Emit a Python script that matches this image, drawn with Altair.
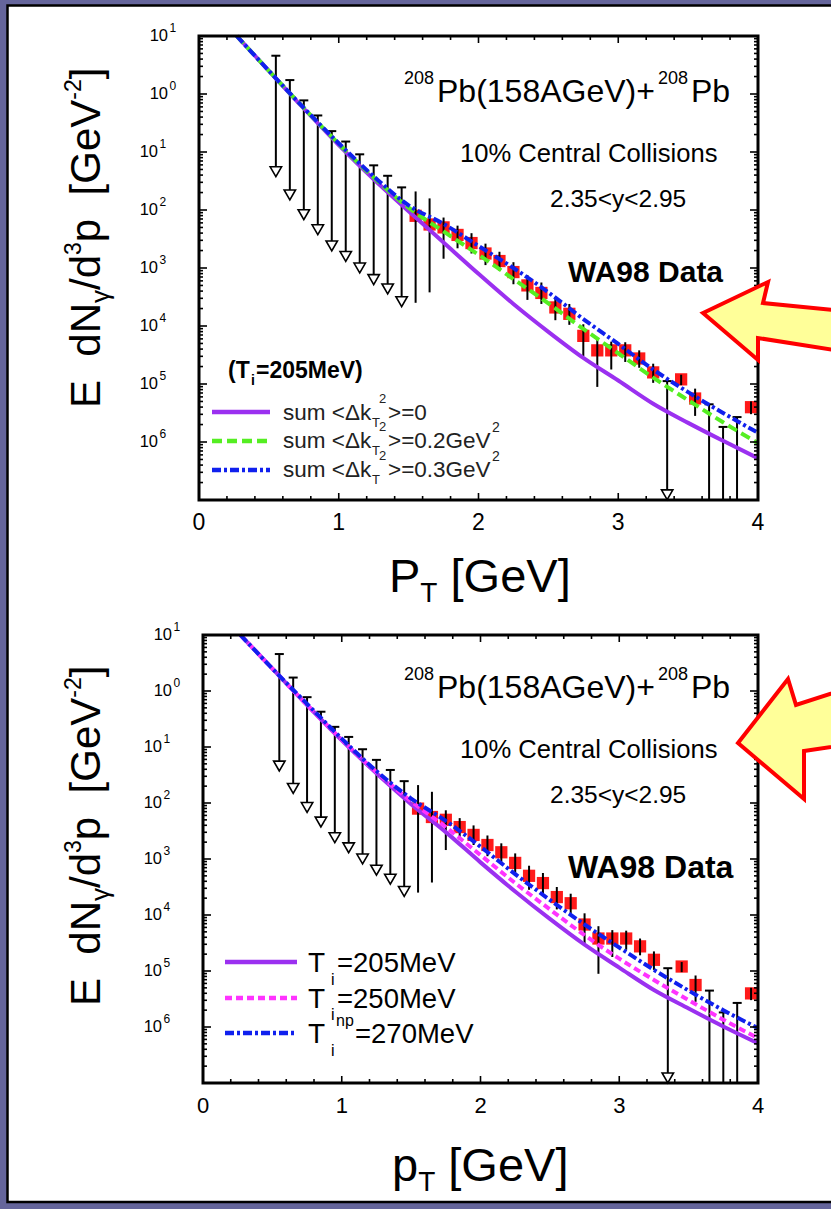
import altair as alt
import pandas as pd

FONT = "Liberation Sans"
PURPLE_BG = "#65659b"
RED = "#ff1a1a"
NB = "\u00a0"
ONE = pd.DataFrame({"k": [0]})

# ---------------- values (log10 of E dN/d3p) ----------------
curve_pt = [0.27, 0.5, 0.75, 1.0, 1.25, 1.5, 1.75, 2.0, 2.25, 2.5, 2.75, 3.0, 3.25, 3.5, 3.75, 4.0]
sum_dk0 = [1.0, 0.40, -0.25, -0.88, -1.47, -2.02, -2.56, -3.10, -3.62, -4.10, -4.55, -4.94, -5.34, -5.67, -5.98, -6.28]
sum_dk02 = [1.0, 0.40, -0.24, -0.86, -1.44, -1.96, -2.37, -2.77, -3.19, -3.61, -4.05, -4.47, -4.89, -5.28, -5.66, -6.02]
sum_dk03 = [1.0, 0.40, -0.24, -0.85, -1.42, -1.92, -2.24, -2.62, -3.00, -3.42, -3.88, -4.31, -4.75, -5.14, -5.50, -5.84]
ti_205 = [1.0, 0.40, -0.25, -0.88, -1.47, -2.02, -2.52, -3.06, -3.58, -4.07, -4.53, -4.94, -5.34, -5.67, -5.99, -6.29]
ti_250 = [1.0, 0.40, -0.25, -0.87, -1.45, -1.97, -2.43, -2.93, -3.43, -3.90, -4.36, -4.78, -5.16, -5.52, -5.87, -6.20]
ti_270np = [1.0, 0.40, -0.23, -0.85, -1.43, -1.92, -2.32, -2.78, -3.27, -3.73, -4.17, -4.58, -4.98, -5.35, -5.70, -6.02]

wa98_pt = [1.55, 1.65, 1.75, 1.85, 1.95, 2.05, 2.15, 2.25, 2.35, 2.45, 2.55, 2.65, 2.75,
           2.85, 2.95, 3.05, 3.15, 3.25, 3.45, 3.55, 3.95]
wa98_val = [-2.10, -2.25, -2.30, -2.43, -2.57, -2.75, -2.88, -3.07, -3.30, -3.43, -3.68, -3.79, -4.17,
            -4.42, -4.42, -4.42, -4.56, -4.80, -4.92, -5.25, -5.40]
wa98_lo = [-3.60, -3.42, -2.84, -2.66, -2.75, -2.95, -3.05, -3.28, -3.55, -3.62, -3.90, -3.98, -4.52,
           -5.05, -4.75, -4.62, -4.72, -4.98, -5.02, -5.55, -5.52]
wa98_hi = [-1.68, -1.80, -2.13, -2.27, -2.40, -2.58, -2.72, -2.90, -3.12, -3.25, -3.50, -3.62, -3.97,
           -4.20, -4.27, -4.28, -4.42, -4.65, -4.84, -5.08, -5.30]

ul_pt = [0.55, 0.65, 0.75, 0.85, 0.95, 1.05, 1.15, 1.25, 1.35, 1.45, 3.35, 3.65, 3.75, 3.85]
ul_top = [0.66, 0.24, -0.11, -0.37, -0.64, -0.82, -1.04, -1.23, -1.41, -1.61, -4.95, -5.35, -5.74, -5.57]
ul_end = [-1.34, -1.74, -2.08, -2.34, -2.62, -2.80, -3.00, -3.20, -3.36, -3.58, -6.91, -7.0, -7.0, -7.0]
ul_arrow = [1, 1, 1, 1, 1, 1, 1, 1, 1, 1, 1, 0, 0, 0]

x_major = [0, 1, 2, 3, 4]
x_minor = [0.2, 0.4, 0.6, 0.8, 1.2, 1.4, 1.6, 1.8, 2.2, 2.4, 2.6, 2.8, 3.2, 3.4, 3.6, 3.8]
x_labels = ["0", "1", "2", "3", "4"]
y_exp = [1, 0, -1, -2, -3, -4, -5, -6]
y_exp_text = ["1", "0", "1", "2", "3", "4", "5", "6"]   # as printed (minus signs lost)
y_major = [10.0 ** k for k in range(-7, 2)]
y_minor = [m * 10.0 ** k for k in range(-7, 1) for m in range(2, 10)]


def pw(vals):
    return [10.0 ** v for v in vals]


df_pts = pd.DataFrame({"pt": wa98_pt, "y": pw(wa98_val), "lo": pw(wa98_lo), "hi": pw(wa98_hi)})
df_ul = pd.DataFrame({"pt": ul_pt, "top": pw(ul_top), "end": pw(ul_end), "arrow": ul_arrow})
df_xmaj = pd.DataFrame({"v": x_major, "t": x_labels})
df_xmin = pd.DataFrame({"v": x_minor})
df_ymaj = pd.DataFrame({"v": y_major})
df_ymin = pd.DataFrame({"v": y_minor})
df_ylab = pd.DataFrame({"v": pw(y_exp), "k": y_exp, "e": y_exp_text})

# Arial / Liberation Sans advance widths (1/1000 em) for laying out sub/superscript runs
ADV = {" ": 278, NB: 278, "E": 667, "d": 556, "N": 722, "γ": 500, "/": 278, "p": 556, "[": 278, "]": 278,
       "G": 778, "e": 556, "V": 667, "-": 333, "T": 611, "P": 667}
for ch in "0123456789":
    ADV[ch] = 556


def width(s, size):
    return sum(ADV.get(c, 556) for c in s) * size / 1000.0


def txt(s, x, y, size, bold=False, angle=0, align="left", color="black"):
    s = s.replace(" ", NB)
    kw = dict(align=align, baseline="alphabetic", font=FONT, fontSize=size, color=color)
    if bold:
        kw["fontWeight"] = "bold"
    if angle:
        kw["angle"] = angle
    return alt.Chart(ONE).mark_text(**kw).encode(x=alt.value(x), y=alt.value(y), text=alt.value(s))


def runs_h(runs, x, y):
    out = []
    for s, size, shift in runs:
        lead = len(s) - len(s.lstrip(" "))
        x += width(" " * lead, size)
        s = s.lstrip(" ")
        out.append(txt(s, x, y + shift, size))
        x += width(s, size)
    return out


def runs_v(runs, x, y):
    # text rotated 270 deg: reads bottom-to-top, glyph tops point left
    out = []
    for s, size, shift in runs:
        lead = len(s) - len(s.lstrip(" "))
        y -= width(" " * lead, size)
        s = s.lstrip(" ")
        out.append(txt(s, x + shift, y, size, angle=270))
        y -= width(s, size)
    return out


def hline(x0, x1, y, color, dash=None):
    kw = dict(color=color, strokeWidth=4.5)
    if dash:
        kw["strokeDash"] = dash
    return alt.Chart(ONE).mark_rule(**kw).encode(x=alt.value(x0), x2=alt.value(x1), y=alt.value(y))


def panel(box, curves, xlab_y, xlab_size, extra):
    x0, x1, y0, y1 = box
    X = alt.Scale(domain=[0, 4], range=[x0, x1], nice=False, zero=False)
    Y = alt.Scale(type="log", domain=[1e-7, 10], range=[y1, y0], nice=False)

    def ex(f):
        return alt.X(f, type="quantitative", scale=X, axis=None)

    def ey(f):
        return alt.Y(f, type="quantitative", scale=Y, axis=None)

    L = []
    # data points
    L.append(alt.Chart(df_pts).mark_square(size=150, color=RED, opacity=1).encode(x=ex("pt"), y=ey("y")))
    L.append(alt.Chart(df_pts).mark_rule(color="black", strokeWidth=2).encode(
        x=ex("pt"), y=ey("lo"), y2=alt.Y2("hi")))
    # upper limits
    L.append(alt.Chart(df_ul).mark_rule(color="black", strokeWidth=2).encode(
        x=ex("pt"), y=ey("end"), y2=alt.Y2("top")))
    L.append(alt.Chart(df_ul).mark_tick(orient="horizontal", color="black", size=9, thickness=2, opacity=1).encode(
        x=ex("pt"), y=ey("top")))
    L.append(alt.Chart(df_ul).transform_filter("datum.arrow == 1").mark_point(
        shape="triangle-down", size=130, filled=True, fill="white", stroke="black", strokeWidth=1.6, opacity=1).encode(
        x=ex("pt"), y=ey("end")))
    # model curves
    for vals, color, dash in curves:
        d = pd.DataFrame({"pt": curve_pt, "y": pw(vals)})
        kw = dict(color=color, strokeWidth=4, interpolate="monotone")
        if dash:
            kw["strokeDash"] = dash
        L.append(alt.Chart(d).mark_line(**kw).encode(x=ex("pt"), y=ey("y")))
    # frame
    L.append(alt.Chart(ONE).mark_rect(fillOpacity=0, stroke="black", strokeWidth=3).encode(
        x=alt.value(x0), x2=alt.value(x1), y=alt.value(y0), y2=alt.value(y1)))
    # ticks (pointing inward, all four sides)
    for df, ln in ((df_xmaj, 7), (df_xmin, 4)):
        L.append(alt.Chart(df).mark_rule(color="black", strokeWidth=1.6).encode(
            x=ex("v"), y=alt.value(y1), y2=alt.value(y1 - ln)))
        L.append(alt.Chart(df).mark_rule(color="black", strokeWidth=1.6).encode(
            x=ex("v"), y=alt.value(y0), y2=alt.value(y0 + ln)))
    for df, ln in ((df_ymaj, 8), (df_ymin, 4)):
        L.append(alt.Chart(df).mark_rule(color="black", strokeWidth=1.6).encode(
            y=ey("v"), x=alt.value(x0), x2=alt.value(x0 + ln)))
        L.append(alt.Chart(df).mark_rule(color="black", strokeWidth=1.6).encode(
            y=ey("v"), x=alt.value(x1), x2=alt.value(x1 - ln)))
    # tick labels
    L.append(alt.Chart(df_xmaj).mark_text(align="center", baseline="alphabetic", font=FONT,
                                          fontSize=xlab_size, color="black").encode(
        x=ex("v"), y=alt.value(xlab_y), text="t:N"))
    for cond, xr in (("datum.k >= 0", x0 - 31), ("datum.k < 0", x0 - 41)):
        L.append(alt.Chart(df_ylab).transform_filter(cond).mark_text(
            align="right", baseline="alphabetic", dy=5, font=FONT, fontSize=16.5, color="black").encode(
            y=ey("v"), x=alt.value(xr), text=alt.value("10")))
        L.append(alt.Chart(df_ylab).transform_filter(cond).mark_text(
            align="left", baseline="alphabetic", dy=-4, font=FONT, fontSize=12, color="black").encode(
            y=ey("v"), x=alt.value(xr + 1.5), text="e:N"))
    L.extend(extra)
    return alt.layer(*L)


GREEN = "#55ee22"
BLUE = "#1020ee"
VIOLET = "#9b30f0"
MAGENTA = "#ff33ff"
DASH = [10, 5]
DASHDOT = [9, 3, 3, 3]
SHORTDASH = [7, 4]

F_Y = 42
F_X = 47


def ytitle(base):
    return runs_v([("E  dN", F_Y, 0), ("γ", 26, 9), ("/d", F_Y, 0), ("3", 23, -19),
                   ("p  [GeV", F_Y, 0), ("-2", 23, -19), ("]", F_Y, 0)], 100, base)


def header(dy, wa_size):
    return [
        txt("208", 404, 84 + dy, 18),
        txt("Pb(158AGeV)+", 437, 102 + dy, 32),
        txt("208", 658, 84 + dy, 18),
        txt("Pb", 691, 102 + dy, 32),
        txt("10% Central Collisions", 460, 162 + dy, 25.6),
        txt("2.35<y<2.95", 550, 207 + dy, 24.5),
        txt("WA98 Data", 568, 282 + dy, wa_size, bold=True),
    ]


extra1 = header(0, 30) + ytitle(408) + runs_h([("P", F_X, 0), ("T", 28, 10), (" [GeV]", F_X, 0)], 389, 592) + [
    txt("(T", 228, 378, 23, bold=True), txt("i", 251, 385, 14, bold=True), txt("=205MeV)", 256, 378, 23, bold=True),
    hline(212, 270, 412, VIOLET), hline(212, 270, 441, GREEN, DASH), hline(212, 270, 470, BLUE, DASHDOT),
]
for base, tail in ((420, "=0"), (448, "=0.2GeV"), (477, "=0.3GeV")):
    extra1 += [txt("sum <Δk", 283, base, 22.5, color="#222222"),
               txt("T", 372, base + 7, 13, color="#222222"),
               txt("2", 379, base - 17, 13, color="#222222"),
               txt(">" + tail, 388, base, 22.5, color="#222222")]
    if tail != "=0":
        extra1.append(txt("2", 492, base - 16, 14, color="#222222"))

extra2 = header(596, 32) + ytitle(1006) + runs_h([("p", F_X, 0), ("T", 28, 10), (" [GeV]", F_X, 0)], 392, 1181) + [
    hline(225, 297, 962, VIOLET), hline(225, 297, 998, MAGENTA, SHORTDASH), hline(225, 297, 1033, BLUE, DASHDOT),
    txt("T", 308, 972, 28), txt("i", 331, 985, 16), txt("=205MeV", 337, 972, 27.5),
    txt("T", 308, 1008, 28), txt("i", 331, 1020, 16), txt("=250MeV", 337, 1008, 27.5),
    txt("T", 308, 1043, 28), txt("i", 331, 1056, 16), txt("np", 336, 1026, 16), txt("=270MeV", 355, 1043, 27.5),
]

p1 = panel((199, 758, 36, 500), [(sum_dk0, VIOLET, None), (sum_dk02, GREEN, DASH), (sum_dk03, BLUE, DASHDOT)],
           530, 23, extra1)
p2 = panel((203, 758, 635, 1083), [(ti_205, VIOLET, None), (ti_250, MAGENTA, SHORTDASH), (ti_270np, BLUE, DASHDOT)],
           1113, 22, extra2)

white = alt.Chart(ONE).mark_rect(fill="white", stroke="black", strokeWidth=2.5).encode(
    x=alt.value(7.5), x2=alt.value(850), y=alt.value(5.5), y2=alt.value(1202))

ARROW1 = "M0,0 L65,-31 L60,-10 L150,-1 L150,40 L55,25 L55,47 Z"
ARROW2 = "M0,0 L50,-64 L58,-38 L120,-58 L120,0 L66,8 L66,56 Z"


def arrow(path, x, y):
    return alt.Chart(ONE).mark_point(shape=path, size=4, filled=True, fill="#ffff99", stroke="#ff0000",
                                     strokeWidth=4, strokeJoin="miter", opacity=1).encode(
        x=alt.value(x), y=alt.value(y))


chart = alt.layer(white, p1, p2, arrow(ARROW1, 703, 313), arrow(ARROW2, 738, 743)).resolve_scale(
    x="independent", y="independent"
).properties(
    width=831, height=1209, padding=0, autosize=alt.AutoSizeParams(type="none"), background=PURPLE_BG
).configure_view(strokeWidth=0)

chart.save("out.html", embed_options={"renderer": "svg", "actions": False})
